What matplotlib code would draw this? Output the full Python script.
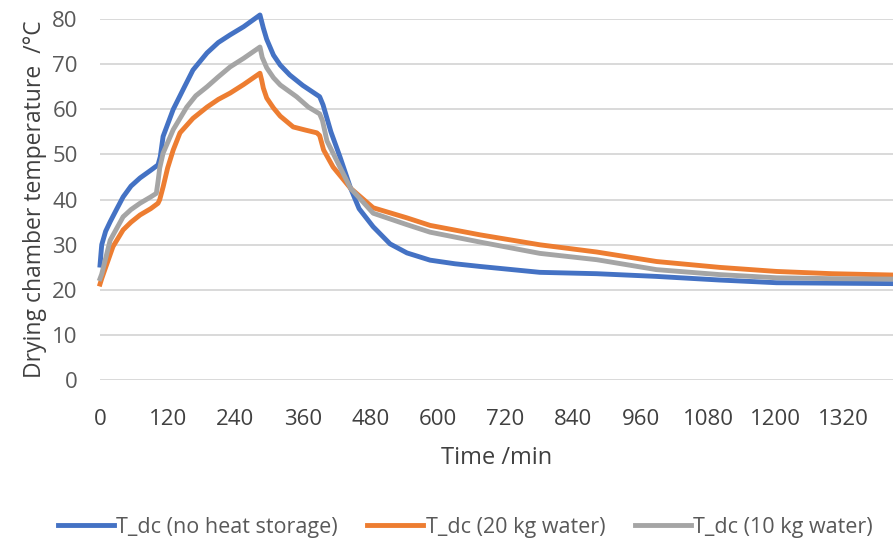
import matplotlib
matplotlib.use('Agg')
import matplotlib.pyplot as plt

plt.rcParams['font.family'] = ['Open Sans', 'DejaVu Sans']

# no heat storage
t_blue = [0, 3, 10, 18, 30, 41, 55, 71, 90, 103, 107, 112, 130, 150, 165, 190, 210, 231, 255, 284,
          290, 296, 308, 320, 337, 360, 390, 396, 410, 426, 445, 460, 485, 515, 545, 586, 630, 675,
          781, 882, 988, 1100, 1201, 1300, 1410]
v_blue = [25.5, 30, 33, 35.1, 38, 40.6, 43, 44.8, 46.5, 47.7, 49.5, 54, 60, 65, 68.7, 72.5, 74.8, 76.5,
          78.3, 80.9, 78, 75.5, 72, 69.8, 67.6, 65.3, 62.8, 61, 55, 49.5, 42.5, 38, 34, 30.2, 28.2,
          26.6, 25.8, 25.2, 23.9, 23.6, 23.0, 22.2, 21.6, 21.5, 21.4]

# 20 kg water
t_orange = [0, 3, 10, 23, 41, 55, 71, 90, 103, 106, 112, 120, 130, 142, 165, 190, 210, 231, 255, 284,
            287, 290, 296, 308, 320, 343, 365, 385, 390, 397, 414, 445, 485, 544, 586, 675, 781, 882,
            988, 1100, 1201, 1300, 1410]
v_orange = [21.3, 22.5, 25, 29.6, 33.3, 35, 36.6, 38, 39.2, 40, 42.8, 47, 51, 54.8, 58, 60.5, 62.2, 63.6,
            65.5, 68, 66.5, 64.7, 62.5, 60.3, 58.5, 56.1, 55.4, 54.8, 54.2, 51, 47.2, 42.5, 38.2, 36,
            34.3, 32.2, 30, 28.4, 26.3, 25, 24.1, 23.6, 23.3]

# 10 kg water
t_gray = [0, 3, 10, 18, 41, 55, 71, 90, 100, 103, 106, 112, 130, 154, 170, 190, 210, 231, 255, 284,
          288, 296, 308, 320, 349, 370, 390, 395, 403, 426, 445, 485, 544, 586, 675, 781, 882, 988,
          1100, 1201, 1300, 1410]
v_gray = [22.5, 23.5, 27, 31, 36.2, 37.8, 39.2, 40.6, 41.4, 44, 47, 50.3, 55.5, 60.5, 63, 65, 67.2, 69.4,
          71.3, 73.8, 71.5, 69.2, 67, 65.4, 62.8, 60.5, 59, 57.5, 53, 47.2, 42.5, 37, 34.5, 32.8, 30.6,
          28.1, 26.7, 24.5, 23.4, 22.7, 22.5, 22.4]

x_ticks = list(range(0, 1321, 120))
y_ticks = list(range(0, 81, 10))

fig = plt.figure(figsize=(8.93, 5.44), dpi=100)
ax = fig.add_axes([0.112, 0.301, 0.888, 0.664])

ax.plot(t_blue, v_blue, color='#4472C4', lw=3.5, label='T_dc (no heat storage)', clip_on=False, zorder=3)
ax.plot(t_orange, v_orange, color='#ED7D31', lw=3.5, label='T_dc (20 kg water)', clip_on=False, zorder=3)
ax.plot(t_gray, v_gray, color='#A5A5A5', lw=3.5, label='T_dc (10 kg water)', clip_on=False, zorder=3)

ax.set_xlim(0, 1408)
ax.set_ylim(0, 80)
ax.set_xticks(x_ticks)
ax.set_yticks(y_ticks)
ax.grid(axis='y', color='#D9D9D9', lw=1.4)
ax.set_axisbelow(True)
for s in ax.spines.values():
    s.set_visible(False)
ax.tick_params(axis='x', length=0, pad=21, labelsize=16, labelcolor='#404040')
ax.tick_params(axis='y', length=0, pad=16, labelsize=16, labelcolor='#595959')

ax.set_xlabel('Time /min', fontsize=17, color='#404040', labelpad=11)
ax.set_ylabel('Drying chamber temperature  /°C', fontsize=16.5, color='#404040', labelpad=4)

fig.legend(loc='center', bbox_to_anchor=(0.521, 0.031), ncol=3, frameon=False, fontsize=15.5,
           handlelength=2.6, columnspacing=1.4, handletextpad=0.1, labelcolor='#595959')

fig.savefig('out.png', dpi=100)
